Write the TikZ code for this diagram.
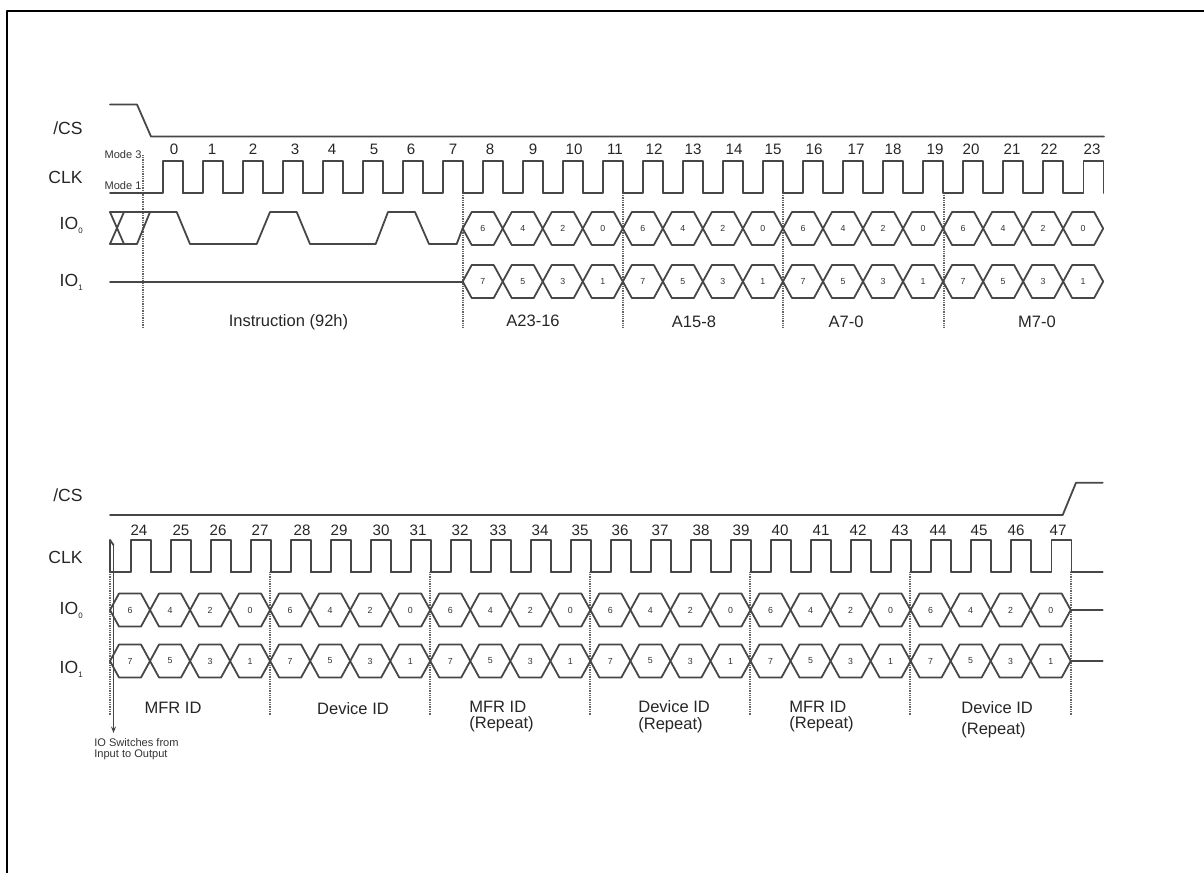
\documentclass[tikz,border=0pt]{standalone}
\usepackage{fontspec}
\setmainfont{Liberation Sans}
\usetikzlibrary{arrows.meta}

\tikzset{
  wave/.style={draw=black!72, line width=0.036cm},
  guide/.style={draw=black!60, line width=0.04cm, line cap=butt, dash pattern=on 0.5pt off 0.5pt},
  sigName/.style={font=\fontsize{10}{11}\selectfont, text=black!85, anchor=base east, inner sep=0pt},
  clkNum/.style={font=\fontsize{8.6}{9}\selectfont, text=black!85},
  bitNum/.style={font=\fontsize{5}{5}\selectfont, text=black!80},
  modeName/.style={font=\fontsize{6.3}{6.6}\selectfont, text=black!80},
  fieldName/.style={font=\fontsize{9.4}{9.6}\selectfont, text=black!85, align=left},
}
% subscript of a signal name
\newcommand{\sigSub}[1]{\raisebox{-2.5pt}{\fontsize{4.5}{5}\selectfont #1}}
% one pulse of the clock, from its low start
\newcommand{\clkPulse}[3]{\draw[wave] (#1,#3) -- (#1+20,#3) -- (#1+20,#2) -- (#1+40,#2) -- (#1+40,#3);}
% one hexagon of a data bus, from its left crossing
\newcommand{\busCell}[3]{\draw[wave] (#1,#2) -- (#1+9,#2-16.5) -- (#1+31,#2-16.5) -- (#1+40.03,#2) -- (#1+31,#2+16.5) -- (#1+9,#2+16.5) -- cycle; \node[bitNum] at (#1+20,#2) {#3};}

\begin{document}
\begin{tikzpicture}[x=0.02cm, y=-0.02cm, >=Stealth, line cap=round, line join=round]

\useasboundingbox (0,0) rectangle (1204,873);
\draw[black, line width=0.04cm, line cap=butt] (6.7,873) -- (6.7,10.7) -- (1204,10.7);

% first part
\node[sigName] (csA) at (83,134) {/CS};
\node[sigName] (clkA) at (83,183) {CLK};
\node[sigName] (ioZeroA) at (83,229) {IO\sigSub{0}};
\node[sigName] (ioOneA) at (83,286) {IO\sigSub{1}};
\node[modeName] (modeThree) at (123,155) {Mode 3};
\node[modeName] (modeOne) at (123,186) {Mode 1};

\draw[wave] (110,104.5) -- (137,104.5) -- (151,136.5) -- (1104,136.5);

\foreach \x in {143,463,623,783,943.5} \draw[guide] (\x,{\x<150 ? 155 : 193}) -- (\x,328);

\draw[wave] (110,193) -- (142.7,193);
\foreach \n in {0,...,23} {
  \pgfmathsetmacro{\xa}{142.7+40.03*\n}
  \clkPulse{\xa}{161}{193}
}
\foreach \n/\xa in {0/174,1/212,2/253,3/295,4/332,5/374,6/411,7/453,8/490,9/533,10/574,11/615,12/654,13/693,14/734,15/773,16/814,17/856,18/893,19/935,20/971,21/1012,22/1049,23/1092}
  \node[clkNum] (numA\n) at (\xa,149.5) {\n};

\draw[wave] (110,212) -- (124,244);
\draw[wave] (110,244) -- (124,212);
\draw[wave] (110,244) -- (137,244) -- (150,212);
\draw[wave] (110,212) -- (176.7,212) -- (190,244) -- (256.7,244) -- (270,212) -- (296.7,212) -- (310,244) -- (375.7,244) -- (388,212) -- (415,212) -- (429,244) -- (456.7,244) -- (462.7,228);
\draw[wave] (110,282) -- (462.7,282);

\foreach \n/\ba/\bb in {0/6/7,1/4/5,2/2/3,3/0/1,4/6/7,5/4/5,6/2/3,7/0/1,8/6/7,9/4/5,10/2/3,11/0/1,12/6/7,13/4/5,14/2/3,15/0/1} {
  \pgfmathsetmacro{\xa}{462.7+40.03*\n}
  \busCell{\xa}{228.5}{\ba}
  \busCell{\xa}{281.5}{\bb}
}

\node[fieldName] (instr) at (288.5,322) {Instruction (92h)};
\node[fieldName] (addrHigh) at (533,321) {A23-16};
\node[fieldName] (addrMid) at (694,322) {A15-8};
\node[fieldName] (addrLow) at (846,322) {A7-0};
\node[fieldName] (modeBits) at (1037,322) {M7-0};

% second part
\node[sigName] (csB) at (83,501.5) {/CS};
\node[sigName] (clkB) at (83,563) {CLK};
\node[sigName] (ioZeroB) at (83,614.5) {IO\sigSub{0}};
\node[sigName] (ioOneB) at (83,673) {IO\sigSub{1}};

\draw[wave] (110,515) -- (1062.7,515) -- (1076,482.7) -- (1102.7,482.7);

\foreach \x in {109.5,269.5,429.5,590,750,910,1071} \draw[guide] (\x,572) -- (\x,715);

\foreach \n in {0,...,23} {
  \pgfmathsetmacro{\xa}{110.7+40.03*\n}
  \clkPulse{\xa}{540}{572}
}
\draw[wave] (1071,572) -- (1102.7,572);
\foreach \n/\xa in {24/139,25/181,26/218,27/260,28/302,29/339,30/381,31/418,32/460,33/498,34/540,35/580,36/620,37/660,38/701,39/741,40/780,41/821,42/858,43/900,44/938,45/979,46/1016,47/1058}
  \node[clkNum] (numB\n) at (\xa,530) {\n};

\foreach \n/\ba/\bb in {0/6/7,1/4/5,2/2/3,3/0/1,4/6/7,5/4/5,6/2/3,7/0/1,8/6/7,9/4/5,10/2/3,11/0/1,12/6/7,13/4/5,14/2/3,15/0/1,16/6/7,17/4/5,18/2/3,19/0/1,20/6/7,21/4/5,22/2/3,23/0/1} {
  \pgfmathsetmacro{\xa}{110+40.03*\n}
  \busCell{\xa}{610}{\ba}
  \busCell{\xa}{661}{\bb}
}
\draw[wave] (1070.7,610) -- (1102.7,610);
\draw[wave] (1070.7,661) -- (1102.7,661);

% marks the switch of the bus direction
\node[modeName, align=left, anchor=north west, inner sep=0pt] (ioSwitch) at (94,738) {IO Switches from\\Input to Output};
\coordinate (switchTop) at (113.5,545);
\draw[wave] (110,540) -- (110,572);
\draw[wave] (110,540) -- (switchTop);
\draw[wave, -{Stealth[length=0.13cm, width=0.1cm]}] (switchTop) -- (113.5,733);

\node[fieldName] (mfrA) at (173,708) {MFR ID};
\node[fieldName] (devA) at (353,709) {Device ID};
\node[fieldName, anchor=west, inner sep=0pt] (mfrB) at (469,716.5) {MFR ID\\(Repeat)};
\node[fieldName, anchor=west, inner sep=0pt] (devB) at (638,716.5) {Device ID\\(Repeat)};
\node[fieldName, anchor=west, inner sep=0pt] (mfrC) at (789,716.5) {MFR ID\\(Repeat)};
\node[fieldName, anchor=west, inner sep=0pt] (devC) at (961,720) {Device ID\\[0.5ex](Repeat)};

\end{tikzpicture}
\end{document}
